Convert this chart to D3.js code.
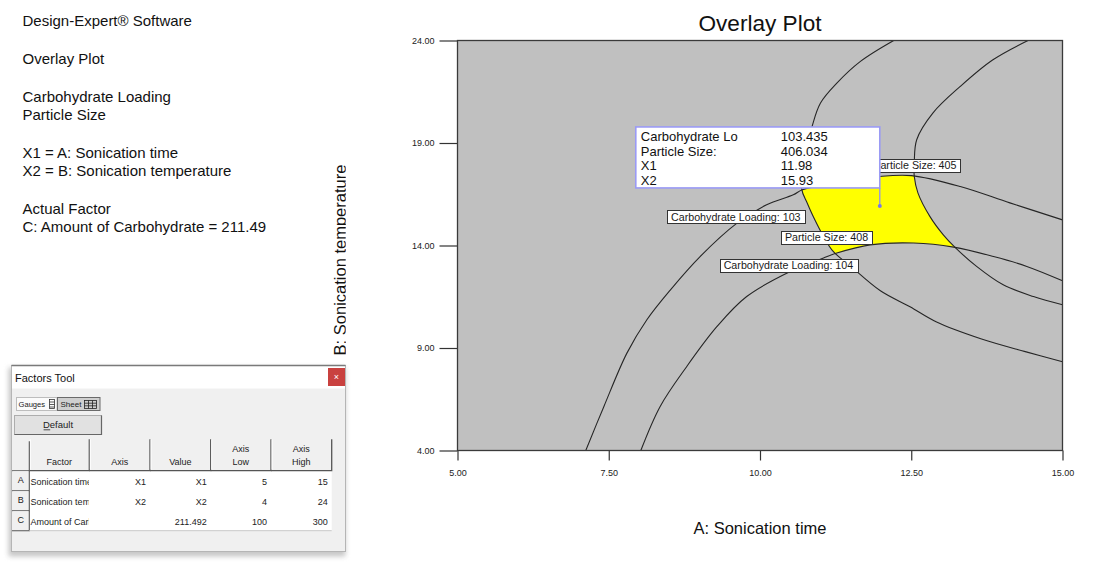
<!DOCTYPE html>
<html>
<head>
<meta charset="utf-8">
<script src="https://cdn.jsdelivr.net/npm/d3@7"></script>
<style>
  html, body { margin: 0; padding: 0; background: #fff; }
  svg { display: block; font-family: "Liberation Sans", Arial, sans-serif; }
</style>
</head>
<body>
<svg id="chart" width="1098" height="563"></svg>
<script>
// ---- Factor ranges and ticks ----
const x1Domain = [5, 15];
const x2Domain = [4, 24];
const x1Ticks = [5, 7.5, 10, 12.5, 15];
const x2Ticks = [4, 9, 14, 19, 24];

// ---- Contour traces (A: Sonication time, B: Sonication temperature) ----
const carbLoading103 = [[7.12,4],[7.42,6.15],[7.80,8.75],[8.13,10.38],[8.52,11.84],[9.01,13.46],[9.62,15.09],[10.11,15.99],[10.55,16.47],[10.70,16.72],[11.33,17.10],[11.95,17.36],[12.50,17.41],[13.31,16.88],[14.13,16.08],[15,15.25]];
const carbLoading104 = [[8.03,4],[8.35,6.15],[8.79,8.10],[9.29,10.05],[9.78,11.51],[10.50,12.73],[11.05,13.39],[11.27,13.63],[11.82,14.03],[12.54,14.12],[13.20,13.92],[13.86,13.46],[14.41,12.98],[15,12.28]];
const particleSize408 = [[12.21,24],[11.66,22.98],[11.27,21.92],[11.00,20.95],[10.86,19.80],[10.75,18.42],[10.69,16.75],[10.78,16.07],[10.88,15.41],[11.05,14.44],[11.21,13.71],[11.49,13.01],[11.99,11.79],[12.48,11.01],[12.91,10.28],[13.65,9.45],[14.40,8.81],[15,8.33]];
const particleSize405 = [[14.43,24],[13.85,23.06],[13.31,21.76],[12.86,20.47],[12.59,19.16],[12.55,18.03],[12.55,17.37],[12.61,16.57],[12.81,15.41],[13.03,14.52],[13.22,13.92],[13.58,12.98],[14.02,12.08],[14.52,11.51],[15,11.11]];

// contour label text and the point on each contour where it sits
const contourLabels = [
  { text: "Carbohydrate Loading: 103", at: [9.60, 15.40] },
  { text: "Carbohydrate Loading: 104", at: [10.47, 13.02] },
  { text: "Particle Size: 408", at: [11.10, 14.40] },
  { text: "Particle Size: 405", at: [12.56, 17.91] }
];

// flagged design point
const flagPoint = [11.98, 15.93];
const flagNames = ["Carbohydrate Lo", "Particle Size:", "X1", "X2"];
const flagValues = ["103.435", "406.034", "11.98", "15.93"];

// ---- Left-hand info text ----
const infoBlocks = [
  ["Design-Expert\u00AE Software"],
  ["Overlay Plot"],
  ["Carbohydrate Loading", "Particle Size"],
  ["X1 = A: Sonication time", "X2 = B: Sonication temperature"],
  ["Actual Factor", "C: Amount of Carbohydrate = 211.49"]
];

// ---- Factors Tool sheet ----
const factorLetters = ["A", "B", "C"];
const factorNames = ["Sonication time", "Sonication temperature", "Amount of Carbohydrate"];
const factorAxis = ["X1", "X2", ""];
const factorValue = ["X1", "X2", "211.492"];
const factorLow = ["5", "4", "100"];
const factorHigh = ["15", "24", "300"];
const sheetHeaders = [["Factor"], ["Axis"], ["Value"], ["Axis", "Low"], ["Axis", "High"]];

const svg = d3.select("#chart");
const defs = svg.append("defs");

// ================= Info text =================
const info = svg.append("g").attr("font-size", 15).attr("fill", "#111");
let base = 26.2;
infoBlocks.forEach(block => {
  block.forEach((line, i) => {
    info.append("text").attr("x", 22.5).attr("y", base + i * 18).text(line);
  });
  base += 38 + 18 * (block.length - 1);
});

// ================= Overlay plot =================
const x = d3.scaleLinear().domain(x1Domain).range([457.5, 1062.5]);
const y = d3.scaleLinear().domain(x2Domain).range([450.5, 40.5]);
const [px0, px1] = x.range();
const [py0, py1] = [y.range()[1], y.range()[0]];

svg.append("text")
  .attr("x", (px0 + px1) / 2).attr("y", 31)
  .attr("text-anchor", "middle").attr("font-size", 22.6).attr("fill", "#111")
  .text("Overlay Plot");

svg.append("text")
  .attr("x", (px0 + px1) / 2).attr("y", 534)
  .attr("text-anchor", "middle").attr("font-size", 16.5).attr("fill", "#111")
  .text("A: Sonication time");

defs.append("clipPath").attr("id", "ylabClip")
  .append("rect").attr("x", 300).attr("y", 100).attr("width", 45.8).attr("height", 300);
svg.append("g").attr("clip-path", "url(#ylabClip)")
  .append("text")
  .attr("transform", "translate(345.5,260) rotate(-90)")
  .attr("text-anchor", "middle").attr("font-size", 16.5).attr("fill", "#111")
  .text("B: Sonication temperature");

// plot background
svg.append("rect")
  .attr("x", px0).attr("y", py0).attr("width", px1 - px0).attr("height", py1 - py0)
  .attr("fill", "#c0c0c0");

defs.append("clipPath").attr("id", "plotClip")
  .append("rect").attr("x", px0).attr("y", py0).attr("width", px1 - px0).attr("height", py1 - py0);

const curve = d3.line().x(d => x(d[0])).y(d => y(d[1])).curve(d3.curveCatmullRom.alpha(0.5));

// closed band between two contours, joined along the plot frame
function band(a, b) {
  const first = curve(a);
  const second = curve(b.slice().reverse()).replace(/^M/, "L");
  return first + second + "Z";
}

const plot = svg.append("g").attr("clip-path", "url(#plotClip)");

// feasible region: between the two loading contours and the two size contours
defs.append("clipPath").attr("id", "sizeBand")
  .append("path").attr("d", band(particleSize408, particleSize405));
plot.append("g").attr("clip-path", "url(#sizeBand)")
  .append("path")
  .attr("d", band(carbLoading103, carbLoading104))
  .attr("fill", "#ffff00");

[carbLoading103, carbLoading104, particleSize408, particleSize405].forEach(c => {
  plot.append("path").attr("d", curve(c))
    .attr("fill", "none").attr("stroke", "#262626").attr("stroke-width", 1.1);
});

// contour labels
const labG = plot.append("g").attr("font-size", 10.7).attr("fill", "#1a1a1a");
contourLabels.forEach(l => {
  const cx = x(l.at[0]), cy = y(l.at[1]);
  const g = labG.append("g");
  const r = g.append("rect");
  const t = g.append("text").attr("x", cx).attr("y", cy + 3.8)
    .attr("text-anchor", "middle").text(l.text);
  const w = t.node().getComputedTextLength() + 8;
  r.attr("x", Math.round(cx - w / 2) + 0.5).attr("y", Math.round(cy - 6.5) + 0.5)
    .attr("width", Math.round(w)).attr("height", 13)
    .attr("fill", "#fff").attr("stroke", "#333").attr("stroke-width", 1);
});

// flag box for the selected point
const fx = x(flagPoint[0]), fy = y(flagPoint[1]);
const boxW = 244, boxH = 61;
const boxL = fx - boxW, boxT = fy - 18 - boxH;
const flag = svg.append("g");
flag.append("line")
  .attr("x1", fx).attr("x2", fx).attr("y1", boxT + boxH).attr("y2", fy)
  .attr("stroke", "#8f8ff2").attr("stroke-width", 1.3);
flag.append("circle").attr("cx", fx).attr("cy", fy).attr("r", 2).attr("fill", "#7a7ae6");
flag.append("rect")
  .attr("x", boxL).attr("y", boxT).attr("width", boxW).attr("height", boxH)
  .attr("fill", "#fff").attr("stroke", "#9a9af5").attr("stroke-width", 1.6);
const flagText = flag.append("g").attr("font-size", 13).attr("fill", "#111");
flagNames.forEach((n, i) => {
  flagText.append("text").attr("x", boxL + 5).attr("y", boxT + 14 + i * 14.6).text(n);
  flagText.append("text").attr("x", boxL + 145).attr("y", boxT + 14 + i * 14.6).text(flagValues[i]);
});

// axes
const fmt = d3.format(".2f");
const xAxis = svg.append("g").attr("transform", `translate(0,${py1})`)
  .call(d3.axisBottom(x).tickValues(x1Ticks).tickFormat(fmt).tickSize(10).tickPadding(9));
const yAxis = svg.append("g").attr("transform", `translate(${px0},0)`)
  .call(d3.axisLeft(y).tickValues(x2Ticks).tickFormat(fmt).tickSize(18).tickPadding(5));
[xAxis, yAxis].forEach(a => {
  a.select(".domain").remove();
  a.selectAll(".tick line").attr("stroke", "#333").attr("stroke-width", 1.2);
  a.selectAll(".tick text").attr("font-size", 9).attr("fill", "#222")
    .attr("font-family", "\"Liberation Sans\", Arial, sans-serif");
});

// plot frame
svg.append("rect")
  .attr("x", px0).attr("y", py0).attr("width", px1 - px0).attr("height", py1 - py0)
  .attr("fill", "none").attr("stroke", "#3a3a3a").attr("stroke-width", 1.3);

// ================= Factors Tool window =================
const win = svg.append("g").attr("font-size", 9).attr("fill", "#222");
const wx = 11.5, wy = 365.5, ww = 334, wh = 186;

const shadow = defs.append("filter").attr("id", "winShadow")
  .attr("x", "-10%").attr("y", "-10%").attr("width", "120%").attr("height", "125%");
shadow.append("feGaussianBlur").attr("stdDeviation", 2.5);
win.append("rect").attr("x", wx - 3).attr("y", wy + 2).attr("width", ww + 3).attr("height", wh + 3)
  .attr("fill", "#9a9a9a").attr("opacity", 0.55).attr("filter", "url(#winShadow)");

win.append("rect").attr("x", wx).attr("y", wy).attr("width", ww).attr("height", wh)
  .attr("fill", "#f0f0f0").attr("stroke", "#b5b5b5").attr("stroke-width", 1);
win.append("rect").attr("x", wx + 0.5).attr("y", wy + 0.5).attr("width", ww - 1).attr("height", 22.5)
  .attr("fill", "#fff");
win.append("line").attr("x1", wx).attr("x2", wx + ww).attr("y1", wy).attr("y2", wy)
  .attr("stroke", "#7a7a7a").attr("stroke-width", 1.5);
win.append("text").attr("x", 15).attr("y", 381.5).attr("font-size", 11).attr("fill", "#111")
  .text("Factors Tool");

// close button
win.append("rect").attr("x", 328).attr("y", 368).attr("width", 17).attr("height", 18).attr("fill", "#c9413f");
win.append("text").attr("x", 336.5).attr("y", 380).attr("text-anchor", "middle")
  .attr("font-size", 9).attr("fill", "#fff").text("\u00D7");

// view tabs
win.append("rect").attr("x", 16.5).attr("y", 397.5).attr("width", 40.5).attr("height", 13)
  .attr("fill", "#fbfbfb").attr("stroke", "#bdbdbd");
win.append("text").attr("x", 18.5).attr("y", 407.3).attr("font-size", 7.6).text("Gauges");
const gi = win.append("g").attr("stroke", "#333").attr("stroke-width", 0.8).attr("fill", "none");
gi.append("rect").attr("x", 49.5).attr("y", 399.5).attr("width", 5).attr("height", 9);
[402, 404.5, 407].forEach(v => gi.append("line").attr("x1", 49.5).attr("x2", 54.5).attr("y1", v).attr("y2", v));

win.append("rect").attr("x", 57.5).attr("y", 397.5).attr("width", 42.5).attr("height", 13)
  .attr("fill", "#cfcfcf").attr("stroke", "#6a6a6a");
win.append("text").attr("x", 60.5).attr("y", 407.3).attr("font-size", 8).text("Sheet");
const si = win.append("g").attr("stroke", "#222").attr("stroke-width", 0.8).attr("fill", "none");
si.append("rect").attr("x", 84.5).attr("y", 400.5).attr("width", 12).attr("height", 8);
[88.5, 92.5].forEach(v => si.append("line").attr("x1", v).attr("x2", v).attr("y1", 400.5).attr("y2", 408.5));
[403.2, 405.8].forEach(v => si.append("line").attr("x1", 84.5).attr("x2", 96.5).attr("y1", v).attr("y2", v));

// Default button
win.append("rect").attr("x", 14.5).attr("y", 415.5).attr("width", 87).attr("height", 19)
  .attr("fill", "#e1e1e1").attr("stroke", "#adadad");
win.append("path").attr("d", "M14.5,434.5H101.5V415.5").attr("fill", "none").attr("stroke", "#666").attr("stroke-width", 1.2);
win.append("text").attr("x", 58).attr("y", 428.2).attr("text-anchor", "middle").attr("font-size", 9.5)
  .text("Default");
win.append("line").attr("x1", 43.6).attr("x2", 50.2).attr("y1", 429.8).attr("y2", 429.8)
  .attr("stroke", "#222").attr("stroke-width", 0.8);

// sheet grid
const colEdges = [29.3, 89.3, 150, 210.7, 271, 331.7];
const headTop = 439.3, headBot = 470.7, rowH = 20;
const tableL = 12;

win.append("rect").attr("x", colEdges[0]).attr("y", headBot).attr("width", colEdges[5] - colEdges[0])
  .attr("height", rowH * factorNames.length).attr("fill", "#fff");

// header cells
sheetHeaders.forEach((h, i) => {
  const l = colEdges[i], r = colEdges[i + 1];
  win.append("path").attr("d", `M${l + 1},${headTop}V${headBot - 1}`)
    .attr("stroke", "#fff").attr("stroke-width", 1);
  win.append("path").attr("d", `M${r},${headTop}V${headBot}H${l}`)
    .attr("fill", "none").attr("stroke", "#555").attr("stroke-width", 1.3);
  h.forEach((t, j) => {
    win.append("text").attr("x", (l + r) / 2).attr("y", headBot - 6 - (h.length - 1 - j) * 12.4)
      .attr("text-anchor", "middle").attr("font-size", 9).text(t);
  });
});
win.append("path").attr("d", `M${tableL},${headBot}H${colEdges[0]}V${headTop + 2}`)
  .attr("fill", "none").attr("stroke", "#555").attr("stroke-width", 1.1);

// row header buttons and cell text
defs.append("clipPath").attr("id", "nameCol")
  .append("rect").attr("x", colEdges[0]).attr("y", headBot).attr("width", colEdges[1] - colEdges[0] - 0.5)
  .attr("height", rowH * factorNames.length);
factorLetters.forEach((letter, i) => {
  const top = headBot + i * rowH;
  win.append("rect").attr("x", tableL + 0.5).attr("y", top + 0.5).attr("width", colEdges[0] - tableL - 1)
    .attr("height", rowH - 1).attr("fill", "#f0f0f0");
  win.append("path").attr("d", `M${tableL},${top + rowH}H${colEdges[0]}V${top}`)
    .attr("fill", "none").attr("stroke", "#555").attr("stroke-width", 1.1);
  const base = top + 13.8;
  win.append("text").attr("x", (tableL + colEdges[0]) / 2).attr("y", base - 2).attr("text-anchor", "middle")
    .attr("font-size", 9).text(letter);
  win.append("g").attr("clip-path", "url(#nameCol)")
    .append("text").attr("x", colEdges[0] + 1.3).attr("y", base).text(factorNames[i]);
  [factorAxis[i], factorValue[i], factorLow[i], factorHigh[i]].forEach((v, k) => {
    if (!v) return;
    const right = k === 0 ? 146 : colEdges[k + 2] - 4;
    win.append("text").attr("x", right).attr("y", base).attr("text-anchor", "end").text(v);
  });
});
win.append("line").attr("x1", colEdges[0]).attr("x2", colEdges[5])
  .attr("y1", headBot + rowH * factorNames.length).attr("y2", headBot + rowH * factorNames.length)
  .attr("stroke", "#c8c8c8");
</script>
</body>
</html>
